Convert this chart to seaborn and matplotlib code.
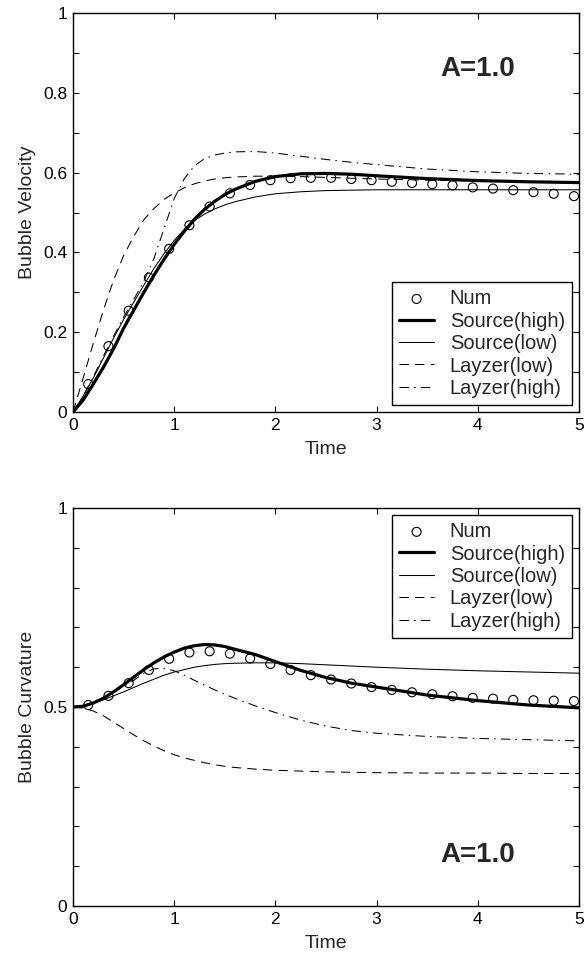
import matplotlib
matplotlib.use('Agg')
import matplotlib.pyplot as plt
import seaborn as sns
from matplotlib.ticker import MultipleLocator

sns.set_theme(style='ticks')
plt.rcParams['font.family'] = ['Liberation Sans', 'DejaVu Sans']
plt.rcParams['xtick.direction'] = 'in'
plt.rcParams['ytick.direction'] = 'in'
plt.rcParams['xtick.top'] = True
plt.rcParams['ytick.right'] = True
plt.rcParams['axes.linewidth'] = 1.0
plt.rcParams['axes.edgecolor'] = 'black'

# times of the model curves
t_curve = [0.0, 0.1, 0.2, 0.3, 0.4, 0.5, 0.6, 0.7, 0.8, 0.9, 1.0, 1.1, 1.2, 1.3,
           1.4, 1.5, 1.6, 1.8, 2.0, 2.25, 2.5, 2.75, 3.0, 3.5, 4.0, 4.5, 5.0]
# times of the numerical points
t_num = [0.15, 0.35, 0.55, 0.75, 0.95, 1.15, 1.35, 1.55, 1.75, 1.95, 2.15, 2.35, 2.55,
         2.75, 2.95, 3.15, 3.35, 3.55, 3.75, 3.95, 4.15, 4.35, 4.55, 4.75, 4.95]

# bubble velocity
vel_num = [0.07, 0.165, 0.254, 0.337, 0.409, 0.468, 0.515, 0.548, 0.569, 0.581, 0.586, 0.587, 0.587,
           0.584, 0.581, 0.577, 0.574, 0.571, 0.568, 0.563, 0.560, 0.556, 0.551, 0.547, 0.541]
vel_src_high = [0.0, 0.03, 0.07, 0.112, 0.158, 0.21, 0.255, 0.30, 0.343, 0.383, 0.42, 0.453, 0.483, 0.508,
                0.528, 0.545, 0.558, 0.578, 0.59, 0.597, 0.598, 0.596, 0.592, 0.585, 0.58, 0.577, 0.575]
vel_src_low = [0.0, 0.04, 0.085, 0.135, 0.185, 0.232, 0.275, 0.318, 0.36, 0.397, 0.43, 0.458, 0.48, 0.496,
               0.509, 0.519, 0.527, 0.539, 0.547, 0.552, 0.555, 0.556, 0.557, 0.557, 0.557, 0.557, 0.557]
vel_lay_low = [0.0, 0.085, 0.172, 0.255, 0.33, 0.392, 0.44, 0.482, 0.51, 0.533, 0.549, 0.562, 0.572, 0.579,
               0.584, 0.587, 0.589, 0.591, 0.591, 0.59, 0.588, 0.586, 0.584, 0.581, 0.579, 0.577, 0.576]
vel_lay_high = [0.0, 0.04, 0.088, 0.14, 0.19, 0.238, 0.282, 0.328, 0.385, 0.46, 0.535, 0.585, 0.617, 0.635,
                0.644, 0.649, 0.652, 0.653, 0.649, 0.641, 0.633, 0.626, 0.62, 0.609, 0.602, 0.598, 0.596]

# bubble curvature
curv_num = [0.505, 0.528, 0.560, 0.593, 0.621, 0.637, 0.640, 0.634, 0.622, 0.608, 0.593, 0.580, 0.569,
            0.559, 0.550, 0.543, 0.537, 0.532, 0.527, 0.523, 0.521, 0.518, 0.517, 0.516, 0.515]
curv_src_high = [0.5, 0.502, 0.51, 0.522, 0.538, 0.556, 0.575, 0.594, 0.611, 0.626, 0.638, 0.648, 0.654, 0.657,
                 0.656, 0.652, 0.645, 0.632, 0.614, 0.592, 0.574, 0.56, 0.55, 0.53, 0.516, 0.505, 0.498]
curv_src_low = [0.5, 0.503, 0.51, 0.518, 0.528, 0.538, 0.549, 0.56, 0.57, 0.58, 0.588, 0.594, 0.6, 0.604,
                0.607, 0.609, 0.61, 0.611, 0.611, 0.609, 0.606, 0.603, 0.6, 0.595, 0.591, 0.588, 0.585]
curv_lay_low = [0.5, 0.497, 0.49, 0.478, 0.462, 0.446, 0.43, 0.415, 0.402, 0.39, 0.38, 0.372, 0.366, 0.36,
                0.355, 0.351, 0.348, 0.344, 0.341, 0.339, 0.337, 0.336, 0.335, 0.334, 0.334, 0.333, 0.333]
curv_lay_high = [0.5, 0.504, 0.512, 0.523, 0.537, 0.552, 0.567, 0.585, 0.596, 0.597, 0.591, 0.58, 0.567, 0.555,
                 0.543, 0.532, 0.522, 0.503, 0.486, 0.467, 0.452, 0.441, 0.434, 0.426, 0.421, 0.418, 0.415]


def draw_panel(ax, num, src_high, src_low, lay_low, lay_high, ylabel, leg_loc, txt_y):
    sns.scatterplot(x=t_num, y=num, ax=ax, marker='o', s=42, fc='none', ec='black',
                    linewidth=0.8, label='Num', zorder=3)
    sns.lineplot(x=t_curve, y=src_high, ax=ax, color='black', linewidth=2.3, label='Source(high)')
    sns.lineplot(x=t_curve, y=src_low, ax=ax, color='black', linewidth=0.75, label='Source(low)')
    sns.lineplot(x=t_curve, y=lay_low, ax=ax, color='black', linewidth=0.75,
                 linestyle=(0, (9, 6)), label='Layzer(low)')
    sns.lineplot(x=t_curve, y=lay_high, ax=ax, color='black', linewidth=0.75,
                 linestyle=(0, (9, 5, 1.5, 5)), label='Layzer(high)')

    ax.set_xlim(0, 5)
    ax.set_ylim(0, 1)
    ax.xaxis.set_major_locator(MultipleLocator(1))
    ax.tick_params(which='both', length=4, width=0.8, labelsize=12.5, pad=4, colors='black')
    ax.set_xlabel('Time', fontsize=14, labelpad=6)
    ax.set_ylabel(ylabel, fontsize=14, labelpad=5)
    ax.text(4.0, txt_y, 'A=1.0', ha='center', va='center', fontsize=20, fontweight='bold')

    leg = ax.legend(loc=leg_loc, fontsize=14.5, frameon=True, fancybox=False, framealpha=1,
                    edgecolor='black', borderpad=0.35, labelspacing=0.17, handlelength=1.7,
                    handletextpad=0.8, borderaxespad=0.35, scatterpoints=1)
    leg.get_frame().set_linewidth(1.0)


fig = plt.figure(figsize=(5.85, 9.56), dpi=100)
ax1 = fig.add_axes([0.1248, 0.569, 0.865, 0.4174])
ax2 = fig.add_axes([0.1248, 0.0523, 0.865, 0.4163])

draw_panel(ax1, vel_num, vel_src_high, vel_src_low, vel_lay_low, vel_lay_high,
           'Bubble Velocity', 'lower right', 0.86)
ax1.yaxis.set_major_locator(MultipleLocator(0.2))
ax1.yaxis.set_minor_locator(MultipleLocator(0.1))
ax1.yaxis.set_major_formatter(plt.FuncFormatter(lambda v, p: '%g' % v))

draw_panel(ax2, curv_num, curv_src_high, curv_src_low, curv_lay_low, curv_lay_high,
           'Bubble Curvature', 'upper right', 0.128)
ax2.yaxis.set_major_locator(MultipleLocator(0.5))
ax2.yaxis.set_minor_locator(MultipleLocator(0.1))
ax2.yaxis.set_major_formatter(plt.FuncFormatter(lambda v, p: '%g' % v))

fig.savefig('out.png', dpi=100)
